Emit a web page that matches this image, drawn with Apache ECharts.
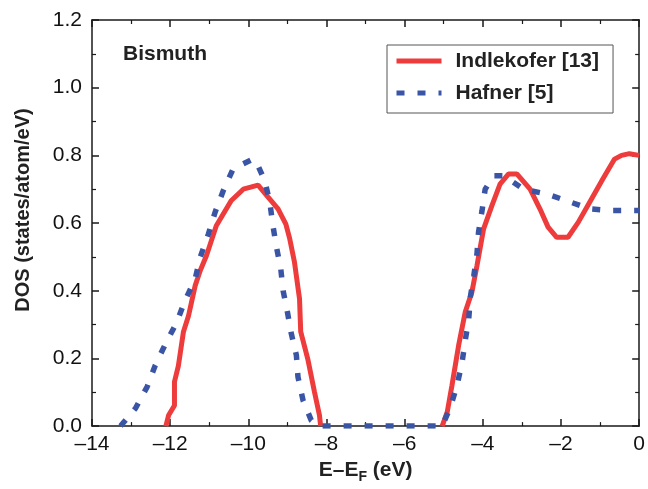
<!DOCTYPE html>
<html>
<head>
<meta charset="utf-8">
<script src="https://cdn.jsdelivr.net/npm/echarts@6/dist/echarts.min.js"></script>
<style>
html,body{margin:0;padding:0;background:#fff;}
#chart{width:648px;height:489px;}
</style>
</head>
<body>
<div id="chart"></div>
<script>
const indlekoferE = [-12.11,-12.04,-11.89,-11.89,-11.79,-11.66,-11.53,-11.36,-11.23,-11.07,-10.82,-10.44,-10.13,-9.75,-9.50,-9.24,-9.04,-8.94,-8.82,-8.69,-8.66,-8.48,-8.31,-8.18,-8.15,null,-5.04,-4.91,-4.79,-4.62,-4.45,-4.28,-4.15,-3.98,-3.77,-3.56,-3.34,-3.13,-2.79,-2.54,-2.33,-2.11,-1.82,-1.56,-1.27,-0.93,-0.63,-0.45,-0.25,0];
const indlekoferDOS = [0,0.032,0.061,0.131,0.178,0.279,0.326,0.415,0.46,0.504,0.592,0.666,0.70,0.712,0.677,0.642,0.597,0.553,0.485,0.376,0.279,0.199,0.102,0.032,0,null,0,0.042,0.12,0.238,0.337,0.396,0.474,0.583,0.651,0.715,0.745,0.745,0.70,0.642,0.588,0.558,0.558,0.602,0.661,0.73,0.789,0.80,0.805,0.80];
const hafnerE = [-13.27,-12.89,-12.59,-12.38,-12.12,-11.83,-11.62,-11.36,-11.23,-11.02,-10.85,-10.64,-10.39,-9.88,-9.79,-9.58,-9.45,-9.37,-9.28,-9.17,-9.11,-9.00,-8.90,-8.77,-8.73,-8.60,-8.39,-8.22,-5.04,-4.83,-4.66,-4.53,-4.45,-4.36,-4.32,-4.23,-4.15,-4.11,-4.02,-3.94,-3.72,-3.47,-2.96,-2.37,-1.86,-1.27,-0.76,0];
const hafnerDOS = [0,0.052,0.116,0.18,0.243,0.307,0.371,0.435,0.499,0.568,0.632,0.696,0.76,0.789,0.779,0.725,0.661,0.592,0.529,0.465,0.40,0.337,0.273,0.209,0.145,0.076,0.017,0,0,0.056,0.12,0.189,0.253,0.317,0.381,0.445,0.509,0.573,0.637,0.70,0.74,0.74,0.70,0.686,0.666,0.642,0.637,0.637];
const seriesNames = ['Indlekofer [13]', 'Hafner [5]'];
const xTicks = {min: -14, max: 0, interval: 2};
const yTicks = {min: 0, max: 1.2, interval: 0.2};

function pairs(xs, ys) {
  return xs.map((x, i) => (x === null || ys[i] === null) ? ['-', '-'] : [x, ys[i]]);
}

const FONT = 'Liberation Sans, Arial, Helvetica, sans-serif';
const axisLine = {show: true, onZero: false, lineStyle: {color: '#1a1a1a', width: 1.5}};
const majorTick = {show: true, inside: true, length: 7, lineStyle: {color: '#1a1a1a', width: 1.5}};
const minorTick = {show: true, splitNumber: 2, length: 4, lineStyle: {color: '#1a1a1a', width: 1.2}};

const chart = echarts.init(document.getElementById('chart'), null, {renderer: 'canvas'});
chart.setOption({
  animation: false,
  backgroundColor: '#fff',
  title: {
    text: 'Bismuth', left: 123, top: 44, padding: 0,
    textStyle: {fontFamily: FONT, fontSize: 21, fontWeight: 'bold', color: '#222'}
  },
  legend: {
    orient: 'vertical', left: 387, top: 45,
    padding: [5, 14, 9, 7], itemGap: 10,
    itemWidth: 45, itemHeight: 10,
    itemStyle: {opacity: 0, borderWidth: 0},
    lineStyle: {width: 5},
    backgroundColor: '#fff', borderColor: '#555', borderWidth: 1, borderRadius: 0,
    textStyle: {fontFamily: FONT, fontSize: 21, fontWeight: 'bold', color: '#222', lineHeight: 22, padding: [0, 0, 0, 9]},
    data: seriesNames
  },
  grid: {left: 92, right: 6, top: 20, bottom: 61.5},
  xAxis: [
    {
      type: 'value', position: 'bottom', min: xTicks.min, max: xTicks.max, interval: xTicks.interval,
      axisLine, axisTick: majorTick, minorTick, splitLine: {show: false},
      axisLabel: {margin: 8, fontFamily: FONT, fontSize: 21, color: '#111',
        formatter: v => v < 0 ? '\u2013' + Math.abs(v) : String(v)},
      name: '{n|E\u2013E}{s|F}{n| (eV)}', nameLocation: 'middle', nameGap: 31,
      nameTextStyle: {
        rich: {
          n: {fontFamily: FONT, fontSize: 21, fontWeight: 'bold', color: '#222', verticalAlign: 'top', lineHeight: 24},
          s: {fontFamily: FONT, fontSize: 14, fontWeight: 'bold', color: '#222', verticalAlign: 'bottom', lineHeight: 17}
        }
      }
    },
    {
      type: 'value', position: 'top', min: xTicks.min, max: xTicks.max, interval: xTicks.interval,
      axisLine, axisTick: majorTick, minorTick, splitLine: {show: false},
      axisLabel: {show: false}
    }
  ],
  yAxis: [
    {
      type: 'value', position: 'left', min: yTicks.min, max: yTicks.max, interval: yTicks.interval,
      axisLine, axisTick: majorTick, minorTick, splitLine: {show: false},
      axisLabel: {margin: 10, fontFamily: FONT, fontSize: 21, color: '#111', formatter: v => v.toFixed(1)},
      name: 'DOS (states/atom/eV)', nameLocation: 'middle', nameGap: 59, nameRotate: 90,
      nameTextStyle: {fontFamily: FONT, fontSize: 20, fontWeight: 'bold', color: '#222', padding: [0, 0, 0, 26]}
    },
    {
      type: 'value', position: 'right', min: yTicks.min, max: yTicks.max, interval: yTicks.interval,
      axisLine, axisTick: majorTick, minorTick, splitLine: {show: false},
      axisLabel: {show: false}
    }
  ],
  series: [
    {
      name: seriesNames[0], type: 'line', data: pairs(indlekoferE, indlekoferDOS),
      showSymbol: false, symbol: 'none', connectNulls: false, smooth: false,
      lineStyle: {color: '#EE3B3B', width: 5}, itemStyle: {color: '#EE3B3B'}, z: 3
    },
    {
      name: seriesNames[1], type: 'line', data: pairs(hafnerE, hafnerDOS),
      showSymbol: false, symbol: 'none', smooth: false,
      lineStyle: {color: '#3A55A5', width: 5.5, type: [8, 13], cap: 'butt'}, itemStyle: {color: '#3A55A5'}, z: 4
    }
  ]
});
</script>
</body>
</html>
